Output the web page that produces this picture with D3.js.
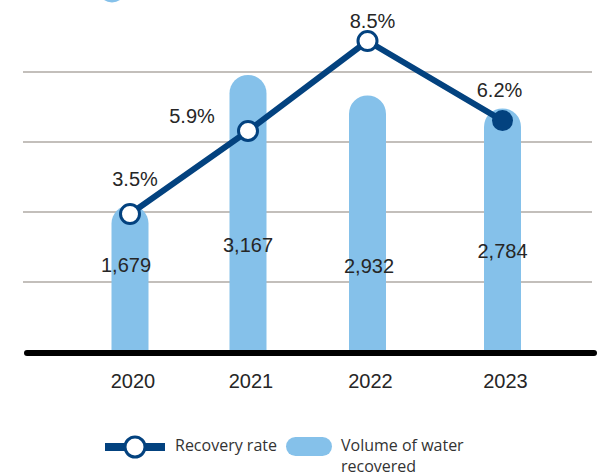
<!DOCTYPE html>
<html>
<head>
<meta charset="utf-8">
<script src="https://cdn.jsdelivr.net/npm/d3@7/dist/d3.min.js"></script>
<style>
  html, body { margin: 0; padding: 0; background: #fff; }
  svg { display: block; }
</style>
</head>
<body>
<svg id="chart" width="598" height="476"></svg>
<script>
// Water recovery, 2020–2023
const years = ["2020", "2021", "2022", "2023"];
const volumeRecovered = [1679, 3167, 2932, 2784];
const recoveryRate = [3.5, 5.9, 8.5, 6.2];
const gridTicks = [800, 1600, 2400, 3200];

const navy = "#03427f";
const lightBlue = "#85c1ea";
const textColor = "#262626";
const numFont = "'Liberation Sans', Arial, Helvetica, sans-serif";
const legendFont = "'Open Sans', 'Noto Sans', sans-serif";

const svg = d3.select("#chart");

// Layout
const baseY = 352;
const topY = 72;
const barWidth = 37;

const x = d3.scaleOrdinal().domain(years).range([130, 248, 367.5, 502.5]);
const yVol = d3.scaleLinear().domain([0, 3200]).range([baseY, topY]);
const yRate = d3.scaleLinear().domain([3.5, 8.5]).range([214, 41]);

// Label placement tweaks
const valueLabelLift = [80, 100, 79, 94];
const valueLabelDx = [-4, 0, 1.5, 0];
const rateLabelOffset = [[5, -28], [-56, -8], [5, -13], [-3, -24]];

// Stray legend pill peeking in at the top edge
svg.append("ellipse")
  .attr("cx", 112).attr("cy", -7.5).attr("rx", 12).attr("ry", 10)
  .attr("fill", lightBlue);

// Gridlines
svg.append("g")
  .selectAll("line")
  .data(gridTicks)
  .join("line")
  .attr("x1", 23).attr("x2", 592)
  .attr("y1", d => yVol(d)).attr("y2", d => yVol(d))
  .attr("stroke", "#c3bfbb")
  .attr("stroke-width", 2);

// Bars with rounded tops
const r = barWidth / 2;
svg.append("g")
  .selectAll("path")
  .data(years)
  .join("path")
  .attr("d", (d, i) => {
    const cx = x(d);
    const x0 = cx - r, x1 = cx + r;
    const top = yVol(volumeRecovered[i]);
    return `M${x0},${baseY} V${top + r} A${r},${r} 0 0 1 ${x1},${top + r} V${baseY} Z`;
  })
  .attr("fill", lightBlue);

// Baseline
svg.append("line")
  .attr("x1", 27).attr("x2", 594)
  .attr("y1", yVol(0) + 1).attr("y2", yVol(0) + 1)
  .attr("stroke", "#000")
  .attr("stroke-width", 6)
  .attr("stroke-linecap", "round");

// Volume labels
svg.append("g")
  .selectAll("text")
  .data(years)
  .join("text")
  .attr("x", (d, i) => x(d) + valueLabelDx[i])
  .attr("y", (d, i) => yVol(0) - valueLabelLift[i])
  .attr("text-anchor", "middle")
  .attr("font-family", numFont)
  .attr("font-size", 20)
  .attr("fill", textColor)
  .text((d, i) => d3.format(",")(volumeRecovered[i]));

// Year axis labels
svg.append("g")
  .selectAll("text")
  .data(years)
  .join("text")
  .attr("x", d => x(d) + 3)
  .attr("y", 388)
  .attr("text-anchor", "middle")
  .attr("font-family", numFont)
  .attr("font-size", 20)
  .attr("fill", textColor)
  .text(d => d);

// Recovery-rate line
const linePts = years.map((d, i) => [x(d), yRate(recoveryRate[i])]);
svg.append("path")
  .attr("d", d3.line()(linePts))
  .attr("fill", "none")
  .attr("stroke", navy)
  .attr("stroke-width", 6)
  .attr("stroke-linejoin", "round");

svg.append("g")
  .selectAll("circle")
  .data(linePts)
  .join("circle")
  .attr("cx", d => d[0])
  .attr("cy", d => d[1])
  .attr("r", (d, i) => i === linePts.length - 1 ? 10.5 : 9.5)
  .attr("fill", (d, i) => i === linePts.length - 1 ? navy : "#fff")
  .attr("stroke", navy)
  .attr("stroke-width", (d, i) => i === linePts.length - 1 ? 0 : 3);

svg.append("g")
  .selectAll("text")
  .data(linePts)
  .join("text")
  .attr("x", (d, i) => d[0] + rateLabelOffset[i][0])
  .attr("y", (d, i) => d[1] + rateLabelOffset[i][1])
  .attr("text-anchor", "middle")
  .attr("font-family", numFont)
  .attr("font-size", 20)
  .attr("fill", textColor)
  .text((d, i) => recoveryRate[i].toFixed(1) + "%");

// Legend
const legend = svg.append("g");
legend.append("line")
  .attr("x1", 105).attr("x2", 165).attr("y1", 447).attr("y2", 447)
  .attr("stroke", navy).attr("stroke-width", 8);
legend.append("circle")
  .attr("cx", 135).attr("cy", 447).attr("r", 10)
  .attr("fill", "#fff").attr("stroke", navy).attr("stroke-width", 3);
legend.append("text")
  .attr("x", 175).attr("y", 451)
  .attr("font-family", legendFont).attr("font-size", 16)
  .attr("fill", "#333")
  .text("Recovery rate");
legend.append("rect")
  .attr("x", 286).attr("y", 437).attr("width", 46).attr("height", 19)
  .attr("rx", 9.5).attr("fill", lightBlue);
const volText = legend.append("text")
  .attr("font-family", legendFont).attr("font-size", 16)
  .attr("fill", "#333");
volText.append("tspan").attr("x", 341).attr("y", 451).text("Volume of water");
volText.append("tspan").attr("x", 341).attr("y", 472).text("recovered");
</script>
</body>
</html>
